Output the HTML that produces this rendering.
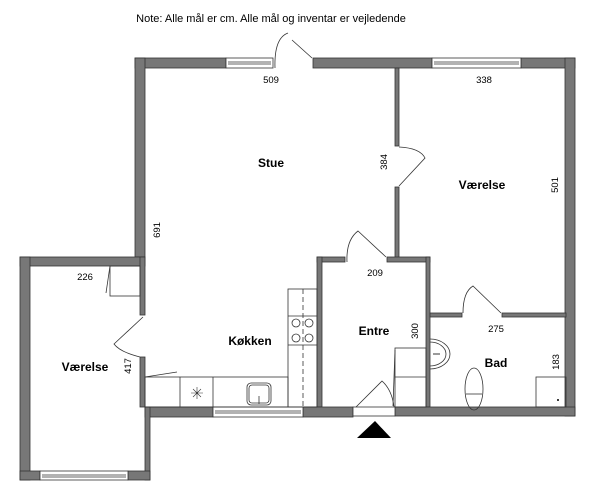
<!DOCTYPE html>
<html><head><style>body{margin:0;background:#fff}svg{display:block}text{font-family:"Liberation Sans",sans-serif;fill:#000}</style></head><body>
<svg width="600" height="496" viewBox="0 0 600 496" xmlns="http://www.w3.org/2000/svg">
<text x="271" y="22" font-size="11" text-anchor="middle">Note: Alle mål er cm. Alle mål og inventar er vejledende</text>
<g fill="#777" stroke="#333" stroke-width="0.8">
<!-- Stue/top -->
<rect x="135" y="58" width="91" height="10"/>
<rect x="135" y="58" width="10" height="199"/>
<rect x="313" y="58" width="119" height="10"/>
<rect x="521" y="58" width="54" height="10"/>
<rect x="565" y="58" width="10" height="358"/>
<rect x="395" y="68" width="4" height="78"/>
<rect x="395" y="187" width="4" height="71"/>
<!-- Entre -->
<rect x="317" y="257" width="28" height="5"/>
<rect x="387" y="257" width="43" height="5"/>
<rect x="317" y="257" width="5" height="150"/>
<rect x="426" y="257" width="4" height="150"/>
<!-- Bad -->
<rect x="430" y="313" width="32" height="4"/>
<rect x="502" y="313" width="64" height="4"/>
<!-- bottom -->
<rect x="145" y="407" width="68" height="10"/>
<rect x="303" y="407" width="50" height="10"/>
<rect x="395" y="407" width="180" height="9"/>
<!-- left room -->
<rect x="20" y="257" width="125" height="9"/>
<rect x="20" y="257" width="10" height="223"/>
<rect x="140" y="257" width="5" height="58"/>
<rect x="140" y="357" width="5" height="50"/>
<rect x="145" y="407" width="5" height="73"/>
<rect x="20" y="471" width="20" height="9"/>
<rect x="128" y="471" width="22" height="9"/>
</g>
<!-- windows -->
<g fill="#fff" stroke="#333" stroke-width="0.8">
<rect x="226" y="58" width="47" height="10"/><line x1="228" y1="62" x2="271" y2="62"/><line x1="228" y1="64" x2="271" y2="64"/>
<rect x="432" y="58" width="89" height="10"/><line x1="434" y1="62" x2="519" y2="62"/><line x1="434" y1="64" x2="519" y2="64"/>
<rect x="213" y="407" width="90" height="10"/><line x1="215" y1="411" x2="301" y2="411"/><line x1="215" y1="413" x2="301" y2="413"/>
<rect x="40" y="471" width="88" height="9"/><line x1="42" y1="475" x2="126" y2="475"/><line x1="42" y1="477" x2="126" y2="477"/>
<rect x="353" y="407" width="42" height="9"/>
</g>
<g fill="none" stroke="#333" stroke-width="0.8">
<!-- doors -->
<path d="M275 68 Q274 38 288 33 M312 58 L292 40"/>
<path d="M399 147 Q420 148 425 158 L399 186"/>
<path d="M347 262 Q346 240 358 231 L386 257"/>
<path d="M463 313 Q463 292 473 286 L501 313"/>
<path d="M143 317 L114 344 Q120 352 140 357"/>
<path d="M356 407 L382 381 Q392 390 394 407"/>
<path d="M110 266 L106 293"/>
<rect x="110" y="266" width="30" height="30"/>
<!-- kitchen -->
<rect x="145" y="377" width="143" height="30"/>
<line x1="180" y1="377" x2="180" y2="407"/><line x1="213" y1="377" x2="213" y2="407"/>
<rect x="288" y="289" width="29" height="118"/>
<line x1="288" y1="316" x2="317" y2="316"/><line x1="288" y1="345" x2="317" y2="345"/>
<line x1="303" y1="289" x2="303" y2="407" stroke-dasharray="5,3"/>
<circle cx="296" cy="323" r="4"/><circle cx="309" cy="323" r="4"/><circle cx="296" cy="338" r="4"/><circle cx="309" cy="338" r="4"/>
<rect x="247" y="383" width="24" height="22" rx="4"/><rect x="249" y="385" width="20" height="18" rx="3"/>
<line x1="259" y1="396" x2="259" y2="404"/>
<path d="M191 393 h12 M197 387 v12 M193 389 l8 8 M201 389 l-8 8" stroke-width="0.6"/>
<line x1="145" y1="377" x2="177" y2="372"/>
<!-- entre closet -->
<rect x="395" y="348" width="31" height="59"/><line x1="395" y1="377" x2="426" y2="377"/>
<line x1="395" y1="350" x2="393" y2="406"/>
<!-- bad -->
<path d="M430 339 A 20 15 0 0 1 430 369"/><path d="M430 342 A 16 12 0 0 1 430 366"/>
<ellipse cx="474" cy="389" rx="9" ry="21"/><line x1="466" y1="394" x2="482" y2="394"/>
<rect x="536" y="377" width="30" height="30"/>
</g>
<circle cx="558" cy="400" r="1" fill="#000"/>
<line x1="433" y1="354" x2="440" y2="354" stroke="#000" stroke-width="0.8"/>
<polygon points="375,421 357,438 391,438" fill="#000"/>
<g font-size="9.5" text-anchor="middle">
<text x="271" y="83">509</text><text x="484" y="83">338</text><text x="375" y="276">209</text>
<text x="85" y="280">226</text><text x="496" y="332">275</text>
<text transform="translate(387,162) rotate(-90)">384</text>
<text transform="translate(558,185) rotate(-90)">501</text>
<text transform="translate(160,230) rotate(-90)">691</text>
<text transform="translate(418,331) rotate(-90)">300</text>
<text transform="translate(559,362) rotate(-90)">183</text>
<text transform="translate(131,366) rotate(-90)">417</text>
</g>
<g font-size="12" font-weight="bold" text-anchor="middle">
<text x="271" y="167">Stue</text><text x="482" y="189">Værelse</text>
<text x="374" y="335">Entre</text><text x="250" y="345">Køkken</text>
<text x="496" y="367">Bad</text><text x="85" y="371">Værelse</text>
</g>
</svg>
</body></html>
